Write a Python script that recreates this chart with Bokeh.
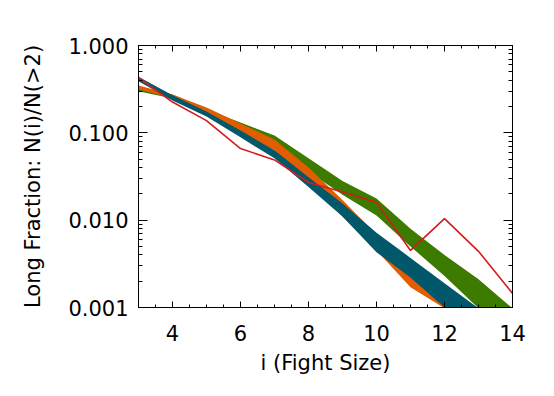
from bokeh.plotting import figure
from bokeh.models import LogAxis, LinearAxis, LogTicker, SingleIntervalTicker, Range1d, CustomJSTickFormatter
from bokeh.embed import file_html
from bokeh.resources import INLINE

fight_size = [3, 4, 5, 6, 7, 8, 9, 10, 11, 12, 13, 14]

green_lo = [0.30, 0.247, 0.163, 0.108, 0.069, 0.036, 0.0196, 0.0113, 0.0050, 0.0023, 0.00098, 0.0005]
green_hi = [0.34, 0.275, 0.185, 0.131, 0.093, 0.051, 0.028, 0.0177, 0.0080, 0.0040, 0.0021, 0.00098]

orange_lo = [0.313, 0.25, 0.171, 0.101, 0.063, 0.027, 0.011, 0.0045, 0.0017, 0.00098, 0.0004, 0.0002]
orange_hi = [0.348, 0.275, 0.195, 0.128, 0.084, 0.040, 0.017, 0.0068, 0.0030, 0.0015, 0.0006, 0.0003]

teal_lo = [0.39, 0.235, 0.154, 0.089, 0.051, 0.024, 0.011, 0.0043, 0.0022, 0.0010, 0.0005, 0.0003]
teal_hi = [0.44, 0.27, 0.175, 0.106, 0.063, 0.031, 0.0155, 0.0072, 0.0037, 0.0019, 0.00098, 0.0005]

observed = [0.43, 0.225, 0.138, 0.066, 0.049, 0.027, 0.021, 0.016, 0.0045, 0.0104, 0.0044, 0.00145]

FONT = "DejaVu Sans"

p = figure(width=540, height=380, output_backend="svg", toolbar_location=None,
           y_axis_type="log", x_range=Range1d(3, 14), y_range=Range1d(0.001, 1.0),
           min_border_left=138, min_border_right=28, min_border_top=45, min_border_bottom=73)
p.grid.visible = False
p.outline_line_color = "black"
p.background_fill_color = "white"

p.varea(x=fight_size, y1=green_lo, y2=green_hi, fill_color="#3d7a00")
p.varea(x=fight_size, y1=orange_lo, y2=orange_hi, fill_color="#e25c00")
p.varea(x=fight_size, y1=teal_lo, y2=teal_hi, fill_color="#00586a")
p.line(x=fight_size, y=observed, line_color="#d41c1c", line_width=1.6)

fmt = CustomJSTickFormatter(code="return tick.toFixed(3);")

def style(ax, major, minor, labels=True):
    ax.major_tick_in = major
    ax.major_tick_out = 0
    ax.minor_tick_in = minor
    ax.minor_tick_out = 0
    ax.axis_line_color = "black"
    ax.major_tick_line_color = "black"
    ax.minor_tick_line_color = "black"
    ax.major_label_text_font = FONT
    ax.major_label_text_font_size = "21px"
    ax.major_label_text_color = "black"
    ax.axis_label_text_font = FONT
    ax.axis_label_text_font_size = "21px"
    ax.axis_label_text_font_style = "normal"
    ax.axis_label_text_color = "black"
    if not labels:
        ax.major_label_text_font_size = "1px"
        ax.major_label_text_color = None
        ax.major_label_standoff = 0

xa = p.xaxis[0]
xa.ticker = SingleIntervalTicker(interval=2, num_minor_ticks=4)
xa.axis_label = "i (Fight Size)"
style(xa, 6, 3)
xa.major_label_standoff = 17
xa.axis_label_standoff = 7

ya = p.yaxis[0]
ya.ticker = LogTicker(num_minor_ticks=10)
ya.formatter = fmt
ya.axis_label = "Long Fraction: N(i)/N(>2)"
style(ya, 9, 4)
ya.major_label_standoff = 10
ya.axis_label_standoff = 20

top = LinearAxis(ticker=SingleIntervalTicker(interval=2, num_minor_ticks=4))
style(top, 6, 3, labels=False)
p.add_layout(top, "above")
right = LogAxis(ticker=LogTicker(num_minor_ticks=10))
style(right, 9, 4, labels=False)
p.add_layout(right, "right")

open("out.html", "w").write(file_html(p, INLINE))
